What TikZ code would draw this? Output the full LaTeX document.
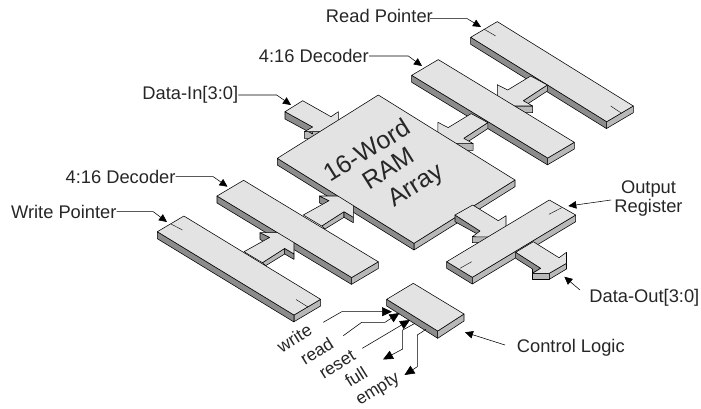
\documentclass[tikz,border=0pt]{standalone}
\usepackage{fontspec}
\setmainfont{Liberation Sans}
\usetikzlibrary{arrows.meta}
\definecolor{topc}{gray}{0.89}
\definecolor{darkc}{gray}{0.55}
\definecolor{midc}{gray}{0.72}
\tikzset{
 x=1pt,y=-1pt,
 face/.style={fill=topc,draw=black,line width=.55pt,line join=round},
 dark/.style={fill=darkc,draw=black,line width=.55pt,line join=round},
 mid/.style={fill=midc,draw=black,line width=.55pt,line join=round},
 tick/.style={draw=black,line width=.4pt},
 lbl/.style={font=\fontsize{18.3}{19}\selectfont,inner sep=0pt,text=black!85},
 sig/.style={font=\fontsize{17.5}{19}\selectfont,inner sep=0pt,text=black!85,rotate=32},
 big/.style={font=\fontsize{25}{27}\selectfont,inner sep=0pt,text=black!85,rotate=32},
 lead/.style={draw=black,line width=.55pt,-{Triangle[length=8pt,width=7.5pt]}},
 siglead/.style={draw=black,line width=.55pt,-{Triangle[length=10pt,width=9pt]}},
}
\newcommand{\isoside}[4]{%
 \path[mid] (#1+#3,#2+#4) -- ++(26.6,-15.7) -- ++(0,6.7) -- ++(-26.6,15.7) -- cycle;
 \path[dark] (#1,#2) -- ++(#3,#4) -- ++(0,7) -- ++(-#3,-#4) -- cycle;
}
\newcommand{\isotop}[4]{%
 \path[face] (#1,#2) -- ++(26.6,-15.7) -- ++(#3,#4) -- ++(-26.6,15.7) -- cycle;
}
\newcommand{\downarrowshape}{%
 \path[mid] (514,106) -- (532.7,106) -- (532.7,112.7) -- (525,112.7) -- cycle;
 \path[mid] (547.3,85) -- (523.3,100.7) -- (526,105) -- (547.3,91) -- cycle;
 \path[face] (530.7,76) -- (507.7,90) -- (497.3,84.7) -- (497.3,97) -- (514,106) -- (532.7,106) -- (523.3,100.7) -- (547.3,85) -- cycle;
}
\newcommand{\uparrowshape}{%
 \path[dark] (319.3,196) -- (329,200.7) -- (323.3,205) -- (319.3,202.7) -- cycle;
 \path[mid] (321.7,226) -- (344,211.7) -- (344,217.3) -- (325,229) -- cycle;
 \path[dark] (344,211.7) -- (353.3,217.3) -- (353.3,222.7) -- (344,217.3) -- cycle;
 \path[face] (303.3,215) -- (329,200.7) -- (319.3,196) -- (340,196) -- (353.3,205) -- (353.3,217.3) -- (344,211.7) -- (321.7,226) -- cycle;
}
\begin{document}
\begin{tikzpicture}
\useasboundingbox (0,0) rectangle (701,408);
% Read pointer side
\isoside{470.7}{37.3}{136}{84.4}
\isotop{470.7}{37.3}{136}{84.4}
\draw[tick] (484.3,29.3) -- (495.7,36);
\draw[tick] (610.7,106) -- (621.7,113.3);
\downarrowshape
\isoside{411.7}{75.3}{136}{82.7}
\isotop{411.7}{75.3}{136}{82.7}
\begin{scope}[shift={(-59.5,37.6)}]\downarrowshape\end{scope}
% Write pointer side
\isoside{157.3}{231.7}{136.7}{83.3}
\isotop{157.3}{231.7}{136.7}{83.3}
\draw[tick] (171,224) -- (182.5,230);
\draw[tick] (296,299.5) -- (308,307);
\isoside{217}{196}{134.7}{81.5}
\begin{scope}[shift={(-59.3,36.7)}]\uparrowshape\end{scope}
\isotop{217}{196}{134.7}{81.5}
% Data-in
\path[mid] (304.3,131.7) -- (325,131) -- (312,138.3) -- (304.3,138.3) -- cycle;
\path[dark] (285,111.7) -- (312.7,127) -- (312.7,134) -- (285,119) -- cycle;
\path[face] (285,111.7) -- (302.7,100.7) -- (331,116.7) -- (338.3,111.7) -- (338.3,125) -- (320,131.7) -- (304.3,131.7) -- (312.7,127) -- cycle;
% RAM
\path[mid] (414,243.3) -- (515,180) -- (515,186.7) -- (414,250) -- cycle;
\path[dark] (277.3,158.3) -- (414,243.3) -- (414,250) -- (277.3,165) -- cycle;
\uparrowshape
\path[face] (277.3,158.3) -- (378.3,95) -- (515,180) -- (414,243.3) -- cycle;
\node[big] (ram1) at (366.7,150) {16-Word};
\node[big] (ram2) at (388.5,168) {RAM};
\node[big] (ram3) at (416.7,186.7) {Array};
% RAM to output register
\path[mid] (472.3,236.7) -- (488,236) -- (488,242.7) -- (472.3,242.7) -- cycle;
\path[dark] (455,215) -- (480,231) -- (480,235.5) -- (455,221.7) -- cycle;
\path[face] (472.7,205) -- (498.3,220.7) -- (506,215.7) -- (506,228) -- (488,237) -- (472.3,236.7) -- (480,231) -- (455,215) -- cycle;
% Output register
\path[dark] (446.7,261.7) -- (472.3,277.3) -- (472.3,284) -- (446.7,268.3) -- cycle;
\path[mid] (472.3,277.3) -- (575.7,215) -- (575.7,221.7) -- (472.3,284) -- cycle;
\path[face] (446.7,261.7) -- (549.3,200) -- (575.7,215) -- (472.3,277.3) -- cycle;
\draw[tick] (549,214.3) -- (561.7,207.7);
\draw[tick] (460,268.3) -- (471.7,261.7);
% Data-out
\path[mid] (532.5,273.3) -- (549.3,273.3) -- (549.3,279.3) -- (532.5,279.3) -- cycle;
\path[mid] (549.3,273.3) -- (566.5,263.3) -- (566.5,269) -- (549.3,279.3) -- cycle;
\path[dark] (515.7,252.3) -- (540.7,268.3) -- (532.5,273.3) -- (532.5,269) -- (515.7,258.3) -- cycle;
\path[face] (533.3,241.7) -- (559,257.7) -- (566.5,252.3) -- (566.5,263.3) -- (549.3,273.3) -- (532.5,273.3) -- (540.7,268.3) -- (515.7,252.3) -- cycle;
% Control logic
\path[dark] (386.7,299.3) -- (437.7,331) -- (437.7,338.3) -- (386.7,306) -- cycle;
\path[mid] (437.7,331) -- (464,314) -- (464,321) -- (437.7,338.3) -- cycle;
\path[face] (386.7,299.3) -- (413.3,283.3) -- (464,314) -- (437.7,331) -- cycle;
% Labels and leaders
\node[lbl,anchor=east] (rp) at (433,15.7) {Read Pointer};
\coordinate (rpt) at (481,27);
\draw[lead] ([xshift=-3pt,yshift=-3pt]rp.east) -- (467.3,18.7) -- (rpt);
\node[lbl,anchor=east] (dr) at (369,56) {4:16 Decoder};
\coordinate (drt) at (422,66);
\draw[lead] (dr.east) -- (408.3,56) -- (drt);
\node[lbl,anchor=east] (di) at (238.3,95) {Data-In[3:0]};
\coordinate (dit) at (291,105);
\draw[lead] (di.east) -- (276.7,95) -- (dit);
\node[lbl,anchor=east] (dl) at (175.7,176.7) {4:16 Decoder};
\coordinate (dlt) at (227.5,186.7);
\draw[lead] (dl.east) -- (213.3,176.7) -- (dlt);
\node[lbl,anchor=east] (wp) at (116.7,211.7) {Write Pointer};
\coordinate (wpt) at (167,222);
\draw[lead] (wp.east) -- (153.3,211.7) -- (wpt);
\node[lbl,align=center] (or) at (648.5,198.5) {Output\\Register};
\coordinate (ort) at (568.3,206);
\coordinate (ors) at (611,200);
\draw[lead] (ors) -- (ort);
\node[lbl,anchor=east] (dou) at (699.5,298) {Data-Out[3:0]};
\coordinate (dos) at (580,290);
\coordinate (dot) at (564.3,276.7);
\draw[lead] (dos) -- (dot);
\node[lbl,anchor=west] (cl) at (516.7,348) {Control Logic};
\coordinate (cls) at (505,345);
\coordinate (clt) at (465,332.3);
\draw[lead] (cls) -- (clt);
% Control signals
\coordinate (w0) at (323.3,322.3);\coordinate (wt) at (392,311.7);
\draw[siglead] (w0) -- (341.7,311.7) -- (wt);
\coordinate (r0) at (343.3,335.7);\coordinate (rt) at (399.5,313);
\draw[siglead] (r0) -- (361.7,322.3) -- (385,322.3) -- (rt);
\coordinate (s0) at (362.3,348.3);\coordinate (st) at (410,320);
\draw[siglead] (s0) -- (st);
\coordinate (f0) at (415,323.3);\coordinate (ft) at (383,359.5);
\draw[siglead] (f0) -- (402.7,330) -- (402.7,349) -- (ft);
\coordinate (e0) at (426,329.3);\coordinate (et) at (404.5,375);
\draw[siglead] (e0) -- (417.3,335) -- (417.3,366.7) -- (et);
\node[sig] (nwrite) at (294.3,338.3) {write};
\node[sig] (nread) at (316.7,351) {read};
\node[sig] (nreset) at (337.3,364.3) {reset};
\node[sig] (nfull) at (356,376.7) {full};
\node[sig] (nempty) at (378.3,390) {empty};
\end{tikzpicture}
\end{document}
